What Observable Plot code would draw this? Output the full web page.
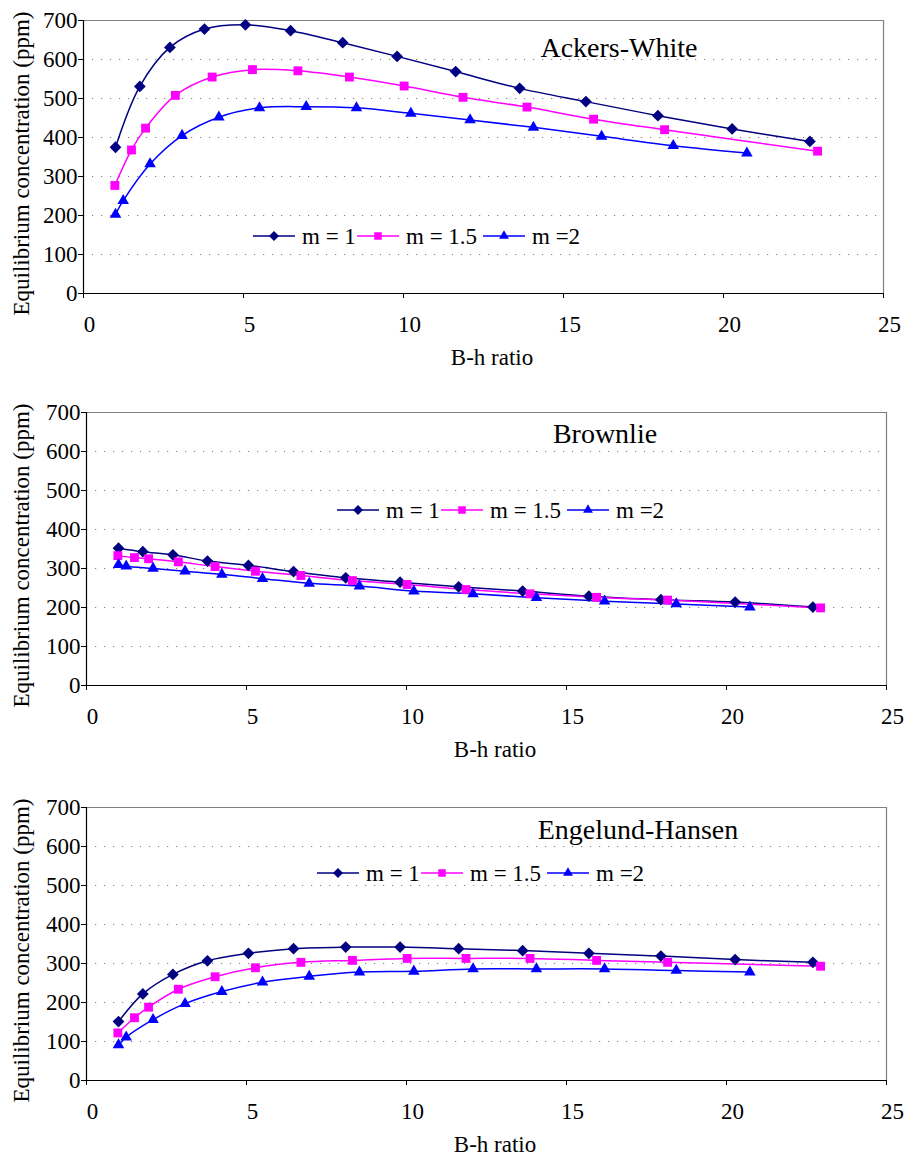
<!DOCTYPE html>
<html>
<head>
<meta charset="utf-8">
<script src="https://cdn.jsdelivr.net/npm/d3@7"></script>
<script src="https://cdn.jsdelivr.net/npm/@observablehq/plot@0.6"></script>
<style>
  html, body { margin: 0; padding: 0; background: #fff; overflow: hidden; }
  #root { position: relative; width: 906px; height: 1159px; }
  .panel { position: absolute; left: 0; }
  .panel svg, .panel svg text { font-family: "Times New Roman", "Liberation Serif", serif !important; }
</style>
</head>
<body>
<div id="root"></div>
<script>
// ---- Data ----
const seriesNames = ["m = 1", "m = 1.5", "m =2"];
const xM1  = [1.0, 1.76, 2.7, 3.78, 5.06, 6.47, 8.1, 9.8, 11.63, 13.63, 15.7, 17.95, 20.27, 22.7];
const xM15 = [0.98, 1.5, 1.94, 2.87, 4.02, 5.28, 6.7, 8.31, 10.02, 11.86, 13.86, 15.94, 18.16, 22.94];
const xM2  = [1.0, 1.24, 2.08, 3.08, 4.23, 5.5, 6.96, 8.53, 10.23, 12.08, 14.06, 16.19, 18.43, 20.73];

const ackersM1  = [375, 531, 631, 678, 689, 674, 643, 608, 569, 526, 492, 456, 422, 390];
const ackersM15 = [277, 368, 424, 508, 555, 574, 571, 555, 532, 503, 478, 447, 420, 365];
const ackersM2  = [203, 238, 332, 405, 452, 476, 479, 476, 462, 445, 426, 403, 379, 360];

const brownlieM1  = [352, 343, 335, 319, 308, 292, 276, 265, 253, 242, 229, 220, 214, 201];
const brownlieM15 = [333, 328, 325, 317, 305, 293, 282, 269, 259, 246, 235, 226, 219, 199];
const brownlieM2  = [310, 306, 300, 293, 285, 274, 262, 255, 242, 235, 225, 216, 209, 201];

const engelundM1  = [151, 222, 272, 307, 326, 338, 342, 342, 338, 333, 326, 319, 310, 303];
const engelundM15 = [122, 161, 188, 234, 266, 289, 303, 308, 313, 313, 313, 308, 303, 293];
const engelundM2  = [91, 111, 156, 197, 228, 252, 267, 278, 280, 286, 286, 286, 282, 278];

const panelTitles = ["Ackers-White", "Brownlie", "Engelund-Hansen"];
const xTicks = [0, 5, 10, 15, 20, 25];
const yTicks = [0, 100, 200, 300, 400, 500, 600, 700];
const xTitle = "B-h ratio";
const yTitle = "Equilibrium concentration (ppm)";

// ---- Styles ----
const colors = ["#000080", "#FF00FF", "#0000FF"];
const symbols = ["diamond2", "square", "triangle"];
const symR = [5.3, 5.0, 4.3];
const d3Symbols = [d3.symbolDiamond2, d3.symbolSquare, d3.symbolTriangle];
const FONT = "Times New Roman, Liberation Serif, serif";

const panels = [
  {title: panelTitles[0], ys: [ackersM1, ackersM15, ackersM2], top: 0, ml: 83, mr: 23,
   titleX: 619, titleY: 57, legX: 253, legY: 236},
  {title: panelTitles[1], ys: [brownlieM1, brownlieM15, brownlieM2], top: 392, ml: 86, mr: 20,
   titleX: 605, titleY: 51, legX: 337, legY: 118},
  {title: panelTitles[2], ys: [engelundM1, engelundM15, engelundM2], top: 787, ml: 86, mr: 20,
   titleX: 638, titleY: 52, legX: 317, legY: 86}
];
const xs = [xM1, xM15, xM2];

const W = 906, H = 370, MT = 20, MB = 77;
const root = document.getElementById("root");

panels.forEach(p => {
  const seriesData = p.ys.map((ys, i) => ys.map((v, j) => ({x: xs[i][j], y: v, s: seriesNames[i]})));
  const marks = [
    Plot.gridY(yTicks.slice(1, -1), {stroke: "#7f7f7f", strokeOpacity: 1, strokeWidth: 1.2, strokeDasharray: "1.2,7.8"}),
    Plot.ruleY([700], {stroke: "#808080", strokeWidth: 1.2}),
    Plot.ruleX([25], {stroke: "#808080", strokeWidth: 1.2}),
    Plot.axisY({ticks: yTicks, tickSize: 5, tickPadding: 1, label: null, fontSize: 23, stroke: "black"}),
    Plot.axisX({ticks: xTicks, tickSize: 5, tickFormat: () => "", label: null, stroke: "black"}),
    Plot.axisX({ticks: xTicks, tickSize: 0, tickPadding: 22, label: null, fontSize: 23, textAnchor: "middle", dx: 6}),
    Plot.ruleY([0], {stroke: "black", strokeWidth: 1.2}),
    Plot.ruleX([0], {stroke: "black", strokeWidth: 1.2})
  ];
  seriesData.forEach((d, i) => {
    marks.push(Plot.line(d, {x: "x", y: "y", stroke: colors[i], strokeWidth: 1.5, curve: "catmull-rom"}));
  });
  seriesData.forEach((d, i) => {
    marks.push(Plot.dot(d, {x: "x", y: "y", symbol: symbols[i], r: symR[i], fill: colors[i], stroke: "none"}));
  });
  const chart = Plot.plot({
    width: W, height: H,
    marginLeft: p.ml, marginRight: p.mr, marginTop: MT, marginBottom: MB,
    x: {domain: [0, 25]},
    y: {domain: [0, 700]},
    style: {fontFamily: FONT, fontSize: "23px", color: "black", background: "white"},
    marks
  });
  const div = document.createElement("div");
  div.className = "panel";
  div.style.top = p.top + "px";
  div.appendChild(chart);
  root.appendChild(div);

  const svg = d3.select(chart);
  const plotL = p.ml, plotR = W - p.mr, plotT = MT, plotB = H - MB;
  const g = svg.append("g").attr("font-family", FONT).attr("fill", "black");
  // panel title
  g.append("text").attr("x", p.titleX).attr("y", p.titleY).attr("text-anchor", "middle")
    .attr("font-size", 28).text(p.title);
  // x title
  g.append("text").attr("x", (plotL + plotR) / 2 + 9).attr("y", plotB + 72).attr("text-anchor", "middle")
    .attr("font-size", 23).text(xTitle);
  // y title
  g.append("text").attr("transform", `translate(29,${(plotT + plotB) / 2 + 7}) rotate(-90)`)
    .attr("text-anchor", "middle").attr("font-size", 23).text(yTitle);
  // legend
  const offs = [0, 104, 230];
  seriesNames.forEach((name, i) => {
    const s = p.legX + offs[i];
    g.append("line").attr("x1", s).attr("x2", s + 42).attr("y1", p.legY).attr("y2", p.legY)
      .attr("stroke", colors[i]).attr("stroke-width", 1.5);
    const r = symR[i] * 0.85;
    g.append("path").attr("d", d3.symbol(d3Symbols[i], Math.PI * r * r)())
      .attr("transform", `translate(${s + 21},${p.legY})`).attr("fill", colors[i]);
    g.append("text").attr("x", s + 49).attr("y", p.legY + 8).attr("text-anchor", "start")
      .attr("font-size", 23).text(name);
  });
});
</script>
</body>
</html>
